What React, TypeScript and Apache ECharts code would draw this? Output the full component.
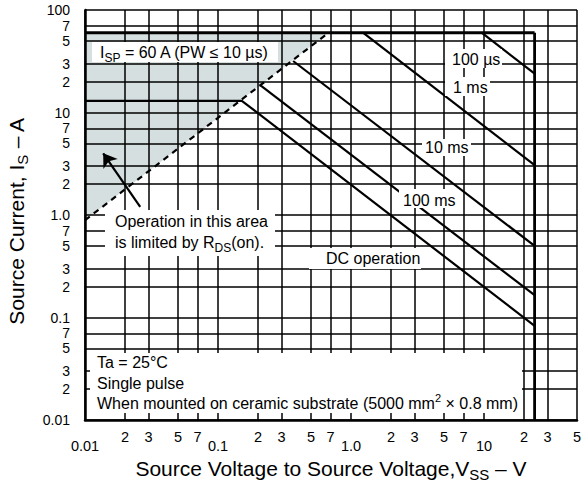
import React, { useEffect, useRef } from 'react';
import * as echarts from 'echarts';

const FONT = '"Liberation Sans", Arial, Helvetica, sans-serif';

// Axis ticks (real units) and their printed labels
const xTickValues = [0.01, 0.02, 0.03, 0.05, 0.07, 0.1, 0.2, 0.3, 0.5, 0.7, 1, 2, 3, 5, 7, 10, 20, 30, 50];
const xTickLabels = ['0.01', '2', '3', '5', '7', '0.1', '2', '3', '5', '7', '1.0', '2', '3', '5', '7', '10', '2', '3', '5'];
const yTickValues = [0.01, 0.02, 0.03, 0.05, 0.07, 0.1, 0.2, 0.3, 0.5, 0.7, 1, 2, 3, 5, 7, 10, 20, 30, 50, 70, 100];
const yTickLabels = ['0.01', '2', '3', '5', '7', '0.1', '2', '3', '5', '7', '1.0', '2', '3', '5', '7', '10', '2', '3', '5', '7', '100'];

// Curves: [V, A]
const ispLimit = [[0.01, 60], [24, 60]];
const vssLimit = [[24, 60], [24, 0.01]];
const rdsOnLimit = [[0.01, 0.89], [0.677, 60]];
const pulse100us = [[9.6, 60], [24, 24]];
const pulse1ms = [[1.23, 60], [24, 3.07]];
const pulse10ms = [[0.367, 31.8], [24, 0.5]];
const pulse100ms = [[0.2075, 18.5], [24, 0.165]];
const dcOperation = [[0.01, 13], [0.151, 13], [24, 0.083]];
const arrowTail = [0.026, 1.2];
const arrowHead = [0.0137, 4.0];

const lg = (p: number[]) => [Math.log10(p[0]), Math.log10(p[1])];

const findTick = (vals: number[], labels: string[], v: number) => {
  let best = 0;
  let bd = Infinity;
  vals.forEach((t, i) => {
    const d = Math.abs(Math.log10(t) - v);
    if (d < bd) {
      bd = d;
      best = i;
    }
  });
  const l = Math.log10(vals[best]);
  return { label: labels[best], decade: Math.abs(l - Math.round(l)) < 1e-9 };
};

export default function App() {
  const ref = useRef<HTMLDivElement>(null);
  useEffect(() => {
    document.body.style.margin = '0';
    const chart = echarts.init(ref.current as HTMLDivElement, null, { renderer: 'svg' });

    const lineSeries = (name: string, data: number[][], width: number, type: any = 'solid') => ({
      type: 'line',
      name,
      data: data.map(lg),
      symbol: 'none',
      showSymbol: false,
      silent: true,
      z: 4,
      lineStyle: { color: '#000', width, type, cap: 'butt' },
    });

    const shadeArea = [rdsOnLimit[0], rdsOnLimit[1], ispLimit[0]];

    const base = { fontFamily: FONT, fontSize: 16, fill: '#000' };
    const rich = {
      s: { fontFamily: FONT, fontSize: 12, fill: '#000', padding: [12, 0, 0, 0] },
      p: { fontFamily: FONT, fontSize: 11, fill: '#000', padding: [0, 0, 10, 0] },
      n: { fontFamily: FONT, fontSize: 16, fill: '#000' },
    };
    const text = (x: number, y: number, t: string) => ({
      type: 'text',
      x,
      y,
      z: 21,
      silent: true,
      style: { text: t, ...base, verticalAlign: 'middle', align: 'left', rich },
    });
    const box = (x: number, y: number, w: number, h: number) => ({
      type: 'rect',
      z: 20,
      silent: true,
      shape: { x, y, width: w, height: h },
      style: { fill: '#fff' },
    });

    const axisCommon = {
      type: 'value',
      nameLocation: 'middle',
      splitLine: { show: true, lineStyle: { color: '#000', width: 1.5 } },
      z: 3,
    };

    const option: any = {
      animation: false,
      backgroundColor: '#fff',
      grid: { left: 85, top: 10, right: 6, bottom: 66, containLabel: false, outerBoundsMode: 'none' },
      xAxis: {
        ...axisCommon,
        min: Math.log10(xTickValues[0]),
        max: Math.log10(xTickValues[xTickValues.length - 1]),
        name: 'Source Voltage to Source Voltage,V{s|SS} – V',
        nameGap: 34,
        nameTextStyle: {
          fontFamily: FONT,
          fontSize: 21,
          color: '#000',
          rich: { s: { fontFamily: FONT, fontSize: 15, color: '#000', padding: [12, 0, 0, 0] } },
        },
        axisLine: { show: true, onZero: false, lineStyle: { color: '#000', width: 2.5 } },
        axisTick: { show: false, customValues: xTickValues.map((v) => Math.log10(v)) },
        axisLabel: {
          customValues: xTickValues.map((v) => Math.log10(v)),
          margin: 9,
          color: '#000',
          fontFamily: FONT,
          fontSize: 14.5,
          hideOverlap: false,
          formatter: (v: number) => {
            const t = findTick(xTickValues, xTickLabels, v);
            return t.decade ? `{d|${t.label}}` : `{n|${t.label}}`;
          },
          rich: {
            d: { fontFamily: FONT, fontSize: 14.5, color: '#000', padding: [9, 0, 0, 0] },
            n: { fontFamily: FONT, fontSize: 14.5, color: '#000' },
          },
        },
      },
      yAxis: {
        ...axisCommon,
        min: Math.log10(yTickValues[0]),
        max: Math.log10(yTickValues[yTickValues.length - 1]),
        name: 'Source Current, I{s|S} – A',
        nameGap: 55,
        nameTextStyle: {
          fontFamily: FONT,
          fontSize: 21,
          color: '#000',
          padding: [0, 12, 0, 0],
          rich: { s: { fontFamily: FONT, fontSize: 15, color: '#000', padding: [12, 0, 0, 0] } },
        },
        axisLine: { show: true, onZero: false, lineStyle: { color: '#000', width: 2.5 } },
        axisTick: { show: false, customValues: yTickValues.map((v) => Math.log10(v)) },
        axisLabel: {
          customValues: yTickValues.map((v) => Math.log10(v)),
          margin: 15,
          color: '#000',
          fontFamily: FONT,
          fontSize: 14,
          hideOverlap: false,
          formatter: (v: number) => findTick(yTickValues, yTickLabels, v).label,
        },
      },
      series: [
        {
          type: 'custom',
          name: 'R_DS(on) limited area',
          silent: true,
          z: 1,
          data: [lg(shadeArea[0])],
          renderItem: (_params: any, api: any) => ({
            type: 'polygon',
            shape: { points: shadeArea.map((p) => api.coord(lg(p))) },
            style: { fill: '#d5dfe0' },
          }),
        },
        lineSeries('ISP limit', ispLimit, 2.8),
        lineSeries('VSS limit', vssLimit, 2.8),
        lineSeries('RDS(on) limit', rdsOnLimit, 2.2, [6, 5]),
        lineSeries('100 µs', pulse100us, 2.2),
        lineSeries('1 ms', pulse1ms, 2.2),
        lineSeries('10 ms', pulse10ms, 2.2),
        lineSeries('100 ms', pulse100ms, 2.2),
        lineSeries('DC operation', dcOperation, 2.2),
        {
          type: 'lines',
          coordinateSystem: 'cartesian2d',
          silent: true,
          z: 5,
          symbol: ['none', 'arrow'],
          symbolSize: 13,
          lineStyle: { color: '#000', width: 2.2, opacity: 1 },
          data: [{ coords: [lg(arrowTail), lg(arrowHead)] }],
        },
      ],
      graphic: [
        box(92, 42, 186, 20),
        text(100, 52, '{n|I}{s|SP}{n| = 60 A (PW ≤ 10 µs)}'),
        box(105, 210, 170, 46),
        text(115, 221, 'Operation in this area'),
        text(115, 242, '{n|is limited by R}{s|DS}{n|(on).}'),
        box(445, 49, 57, 19),
        text(452, 59, '100 µs'),
        box(445, 77, 45, 19),
        text(453, 87, '1 ms'),
        box(422, 139, 49, 17),
        text(425, 147, '10 ms'),
        box(399, 189, 59, 19),
        text(403, 200, '100 ms'),
        box(309, 248, 112, 21),
        text(326, 258, 'DC operation'),
        box(90, 353, 432, 60),
        text(97, 362, 'Ta = 25°C'),
        text(97, 383, 'Single pulse'),
        text(97, 403, '{n|When mounted on ceramic substrate (5000 mm}{p|2}{n| × 0.8 mm)}'),
      ],
    };
    chart.setOption(option);
    return () => chart.dispose();
  }, []);
  return <div ref={ref} style={{ width: 583, height: 486, background: '#fff' }} />;
}
